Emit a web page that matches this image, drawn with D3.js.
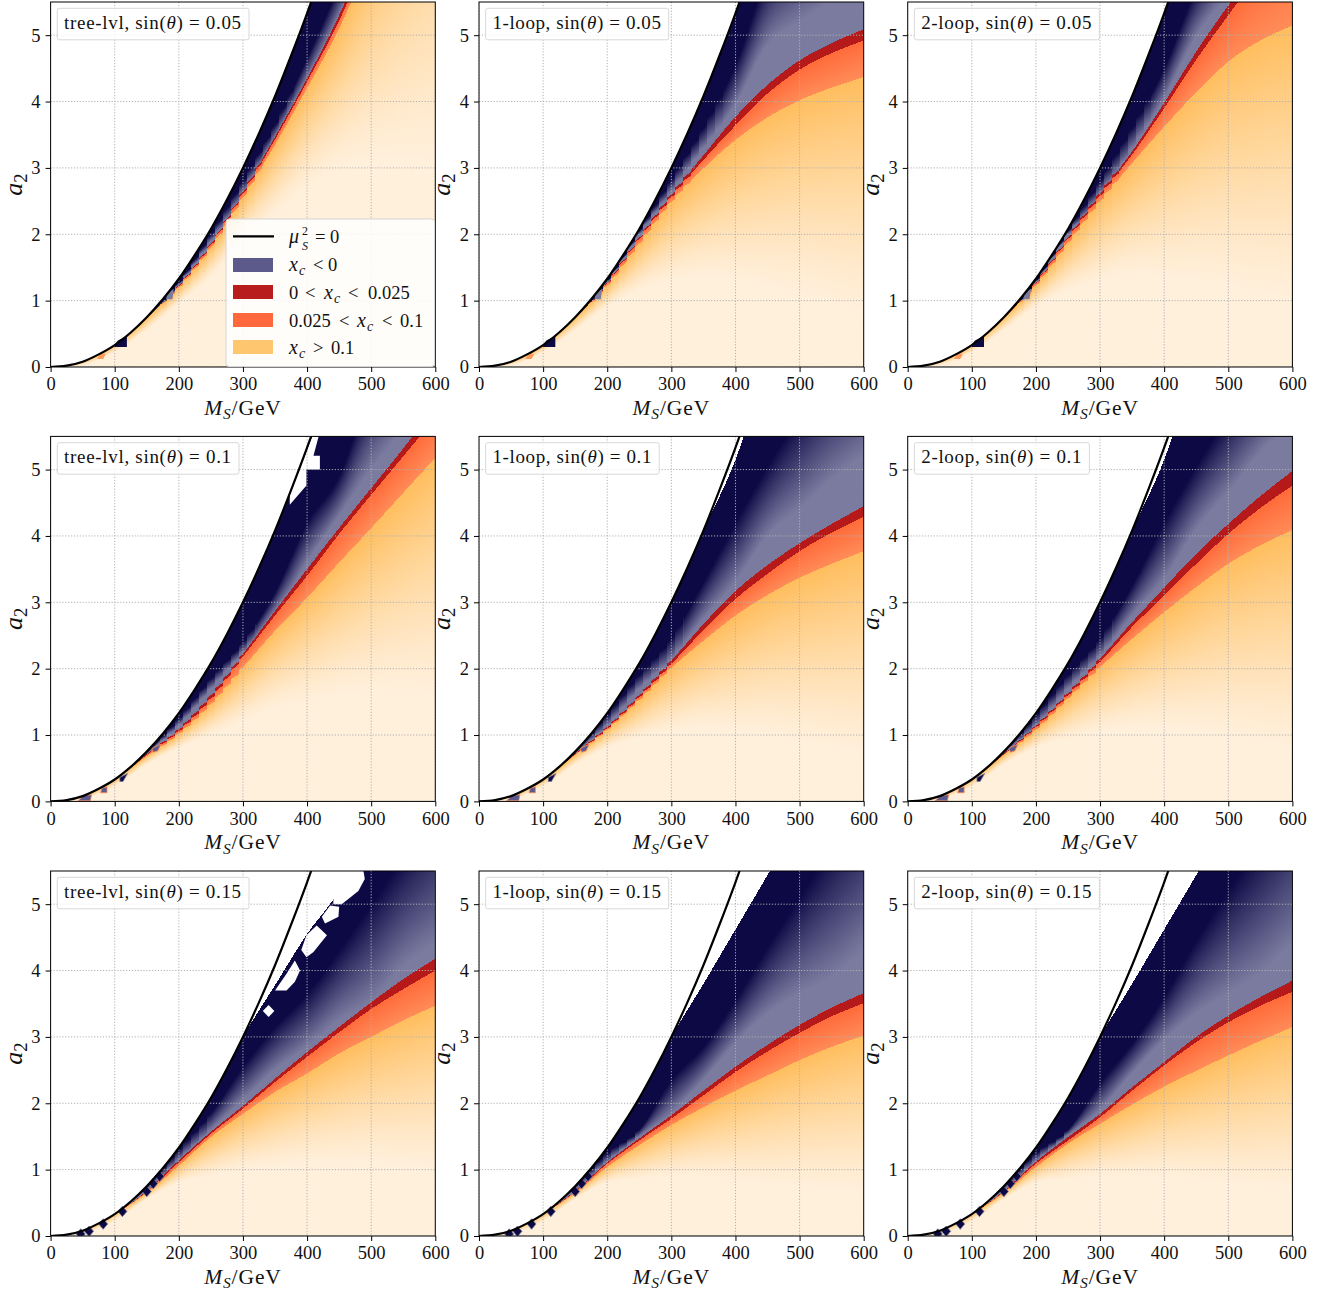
<!DOCTYPE html>
<html><head><meta charset="utf-8">
<script src="https://cdn.jsdelivr.net/npm/d3@7"></script>
<style>
html,body{margin:0;padding:0;background:#fff}
svg{display:block}
text{font-family:"Liberation Serif",serif;fill:#111}
</style></head><body>
<svg id="c" width="1338" height="1296"></svg>
<script>
// ---------- data ----------
const massGrid=[0,50,100,150,200,250,300,350,400,450,500,550,600];
const xTicks=[0,100,200,300,400,500,600];
const yTicks=[0,1,2,3,4,5];
const curveMass=[0,25,50,75,100,125,150,175,200,225,250,275,300,325,350,375,400,425];
const muZero=[0,.02,.08,.19,.33,.52,.75,1.02,1.33,1.69,2.08,2.52,3.0,3.52,4.08,4.69,5.33,6.02];

const labelsLoop=["tree-lvl","1-loop","2-loop"];
const labelsSin=["0.05","0.1","0.15"];

const tree05_x10=[0,.08,.33,.74,1.2,1.8,2.55,3.35,4.2,5.1,6.2,7.3,8.5];
const tree05_x025=[0,.08,.33,.74,1.22,1.84,2.61,3.43,4.3,5.22,6.34,7.45,8.65];
const tree05_x0=[0,.08,.33,.74,1.23,1.86,2.64,3.47,4.35,5.3,6.44,7.55,8.75];
const tree05_navy=[0,.08,.33,.74,1.27,2.0,2.8,3.65,4.65,5.75,6.9,8,9.2];
const tree05_lav=[0,.08,.33,.74,1.24,1.9,2.6,3.4,4.3,5.25,6.4,7.5,8.7];
const tree05_pale=[0,.03,.22,.55,.95,1.35,1.9,2.3,2.7,3.0,3.1,3.1,3.0];

const one05_x10=[0,.08,.33,.74,1.23,1.86,2.49,2.99,3.42,3.76,4.02,4.21,4.37];
const one05_x025=[0,.08,.33,.74,1.26,1.93,2.56,3.12,3.64,4.12,4.48,4.73,4.92];
const one05_x0=[0,.08,.33,.74,1.27,1.95,2.6,3.19,3.77,4.25,4.62,4.88,5.09];
const one05_navy=[0,.08,.33,.74,1.3,2.05,2.82,3.6,4.55,5.9,6.6,7,7.4];
const one05_lav=[0,.08,.33,.74,1.28,2.0,2.65,3.3,3.95,4.85,5.2,5.5,5.75];
const one05_pale=[0,.03,.22,.55,.9,1.15,1.3,1.35,1.3,1.2,1.1,.95,.8];

const two05_x10=[0,.08,.33,.74,1.23,1.87,2.5,3.07,3.62,4.14,4.6,4.92,5.15];
const two05_x025=[0,.08,.33,.74,1.26,1.93,2.58,3.2,3.9,4.63,5.3,5.95,6.5];
const two05_x0=[0,.08,.33,.74,1.27,1.95,2.62,3.25,3.98,4.75,5.45,6.1,6.7];
const two05_navy=[0,.08,.33,.74,1.3,2.05,2.8,3.6,4.5,5.7,6.5,7.2,7.8];
const two05_lav=[0,.08,.33,.74,1.28,2.0,2.55,3.3,4.05,4.98,5.6,6.2,6.8];
const two05_pale=[0,.03,.22,.55,.9,1.15,1.3,1.4,1.35,1.3,1.2,1.1,1.0];

const tree10_x10=[0,.08,.33,.68,1.02,1.47,2.02,2.57,3.07,3.6,4.12,4.65,5.18];
const tree10_x025=[0,.08,.33,.7,1.06,1.55,2.18,2.8,3.4,4.03,4.62,5.2,5.78];
const tree10_x0=[0,.08,.33,.71,1.09,1.6,2.22,2.87,3.5,4.12,4.72,5.32,5.95];
const tree10_navy=[0,.08,.33,.74,1.25,1.85,2.4,3.15,4.2,4.9,6.2,6.9,7.6];
const tree10_lav=[0,.08,.33,.72,1.15,1.7,2.25,2.8,3.6,4.3,5.0,5.6,6.2];
const tree10_pale=[0,.03,.22,.55,.8,1.0,1.2,1.4,1.5,1.6,1.65,1.65,1.6];

const one10_x10=[0,.08,.33,.7,1.08,1.53,2.01,2.42,2.8,3.11,3.37,3.58,3.77];
const one10_x025=[0,.08,.33,.71,1.1,1.57,2.07,2.58,3.05,3.43,3.77,4.05,4.29];
const one10_x0=[0,.08,.33,.72,1.12,1.6,2.12,2.67,3.17,3.56,3.89,4.18,4.45];
const one10_navy=[0,.08,.33,.75,1.3,1.9,2.45,3.3,4.2,5.05,5.8,6.4,6.9];
const one10_lav=[0,.08,.33,.73,1.15,1.7,2.15,2.75,3.3,4.0,4.4,4.85,5.2];
const one10_pale=[0,.03,.22,.55,.8,.95,1.05,1.1,1.05,1.0,.9,.8,.7];
const one10_edge=[0,.08,.33,.75,1.33,2.08,3.0,4.08,5.15,6.6,8,9,10];

const two10_x10=[0,.08,.33,.7,1.08,1.55,2.02,2.45,2.85,3.23,3.58,3.86,4.09];
const two10_x025=[0,.08,.33,.71,1.12,1.6,2.1,2.63,3.1,3.58,4.03,4.42,4.76];
const two10_x0=[0,.08,.33,.72,1.14,1.63,2.15,2.7,3.22,3.73,4.18,4.6,4.98];
const two10_navy=[0,.08,.33,.75,1.3,1.9,2.45,3.25,4.2,5.05,5.8,6.4,6.9];
const two10_lav=[0,.08,.33,.73,1.15,1.7,2.2,2.8,3.35,4.1,4.65,5.25,5.7];
const two10_pale=[0,.03,.22,.55,.8,.95,1.05,1.1,1.1,1.05,1.0,.9,.8];
const two10_edge=[0,.08,.33,.75,1.33,2.08,3.0,4.08,5.15,6.6,8,9,10];

const tree15_x10=[0,.08,.33,.65,1.06,1.49,1.84,2.17,2.45,2.75,3.0,3.25,3.47];
const tree15_x025=[0,.08,.33,.67,1.11,1.54,1.92,2.32,2.7,3.07,3.42,3.72,4.0];
const tree15_x0=[0,.08,.33,.68,1.14,1.57,1.96,2.37,2.77,3.15,3.52,3.87,4.18];
const tree15_navy=[0,.08,.33,.75,1.3,1.85,2.55,3.15,3.65,4.3,5.0,5.7,6.3];
const tree15_lav=[0,.08,.33,.7,1.15,1.6,2.05,2.5,2.85,3.25,3.55,4.05,4.4];
const tree15_pale=[0,.03,.22,.55,.8,.9,1.0,1.05,1.1,1.1,1.1,1.05,1.0];
const tree15_edge=[0,.08,.33,.75,1.33,2.08,3.0,3.78,4.55,5.2,6.1,7,8];

const one15_x10=[0,.08,.33,.65,1.04,1.37,1.67,1.94,2.19,2.42,2.65,2.85,3.02];
const one15_x025=[0,.08,.33,.67,1.09,1.44,1.77,2.12,2.47,2.78,3.06,3.31,3.51];
const one15_x0=[0,.08,.33,.68,1.11,1.47,1.82,2.19,2.55,2.88,3.18,3.44,3.66];
const one15_navy=[0,.08,.33,.75,1.25,1.6,2.35,2.85,3.55,4.35,5.1,5.85,6.5];
const one15_lav=[0,.08,.33,.7,1.12,1.5,1.85,2.35,2.9,3.35,3.65,3.9,4.3];
const one15_pale=[0,.03,.22,.55,.8,.85,.9,.9,.85,.8,.75,.7,.65];
const one15_edge=[0,.08,.33,.75,1.33,2.08,3.0,3.8,4.62,5.44,6.3,7.1,8];

const two15_x10=[0,.08,.33,.65,1.04,1.39,1.69,1.98,2.25,2.49,2.72,2.94,3.15];
const two15_x025=[0,.08,.33,.67,1.09,1.44,1.79,2.19,2.57,2.92,3.22,3.47,3.68];
const two15_x0=[0,.08,.33,.68,1.12,1.49,1.84,2.24,2.62,3.0,3.32,3.6,3.85];
const two15_navy=[0,.08,.33,.75,1.25,1.6,2.3,2.9,3.6,4.45,5.2,5.9,6.6];
const two15_lav=[0,.08,.33,.7,1.13,1.52,1.9,2.45,2.95,3.35,3.65,3.95,4.4];
const two15_pale=[0,.03,.22,.55,.8,.85,.9,.9,.9,.85,.8,.75,.7];
const two15_edge=[0,.08,.33,.75,1.33,2.08,3.0,3.8,4.62,5.44,6.3,7.1,8];

// holes in the tree-level scans (MS, a2)
const holesTree10=[[[373,4.47],[399,4.76],[399,5.0],[420,5.0],[420,5.21],[410,5.21],[418,5.5],[408,5.5],[400,5.3],[373,4.62]]];
const holesTree15=[
 [[331,3.39],[340,3.30],[349,3.39],[340,3.48]],
 [[350,3.7],[368,3.7],[381,3.83],[389,4.0],[381,4.15],[368,3.95]],
 [[391,4.31],[399,4.2],[410,4.28],[420,4.4],[431,4.53],[415,4.68],[399,4.53]],
 [[423,4.81],[428,4.71],[449,4.81],[450,4.96],[436,4.98]],
 [[441,5.13],[441,5.0],[454,5.0],[480,5.2],[490,5.38],[488,5.5],[462,5.5]]];
// stray grid cells near the curve (MS, a2)
const cellsRow05=[[[100,.30],[119,.30],[119,.47],[105,.40],[100,.34]]];
const cellsRow05Light=[[[180,1.02],[190,1.02],[192,1.18],[182,1.12]]];
const cellsRow05Orange=[[[72,.12],[82,.12],[86,.2],[78,.2]]];
const cellsRow10=[[[108,.3],[113,.3],[120,.42],[108,.36]]];
const cellsRow10Light=[[[43,.01],[62,.01],[64,.1],[52,.09]],[[78,.13],[88,.13],[88,.22],[80,.2]],[[160,.74],[167,.76],[172,.86],[158,.8]]];
const diamondsRow15=[[47,.03],[60,.07],[82,.18],[112,.37],[150,.67],[160,.79],[170,.9]];

// ---------- layout ----------
const W=384.7,H=365;
const X0=[50.6,479,907.7],Y0=[2,436.4,871];
const cNavy="#0c0945",cLav="#7b7ba0",cRed="#b5191a",cOrA="#ff6a3a",cOrB="#ff8c58",cYel="#ffbe5e",cPale="#fff0dc";
const titleWidths=[[177.7,167.7,177.7],[169,159.5,169],[171,161,171]];
const scanStep=12.5, scanWeight=.4; // the scan's grid shows as small teeth along the low-mass edges
const panels=[
 [tree05_x10,tree05_x025,tree05_x0,tree05_navy,tree05_lav,tree05_pale,null],
 [one05_x10,one05_x025,one05_x0,one05_navy,one05_lav,one05_pale,null],
 [two05_x10,two05_x025,two05_x0,two05_navy,two05_lav,two05_pale,null],
 [tree10_x10,tree10_x025,tree10_x0,tree10_navy,tree10_lav,tree10_pale,null],
 [one10_x10,one10_x025,one10_x0,one10_navy,one10_lav,one10_pale,one10_edge],
 [two10_x10,two10_x025,two10_x0,two10_navy,two10_lav,two10_pale,two10_edge],
 [tree15_x10,tree15_x025,tree15_x0,tree15_navy,tree15_lav,tree15_pale,tree15_edge],
 [one15_x10,one15_x025,one15_x0,one15_navy,one15_lav,one15_pale,one15_edge],
 [two15_x10,two15_x025,two15_x0,two15_navy,two15_lav,two15_pale,two15_edge]];

function hermite(xs,ys){
  const n=xs.length;
  const m=ys.map((_,i)=>i==0?(ys[1]-ys[0])/(xs[1]-xs[0]):i==n-1?(ys[n-1]-ys[n-2])/(xs[n-1]-xs[n-2]):(ys[i+1]-ys[i-1])/(xs[i+1]-xs[i-1]));
  return x=>{
    if(x>xs[n-1])return ys[n-1]+(x-xs[n-1])*m[n-1];
    let i=Math.min(n-2,Math.max(0,d3.bisectRight(xs,x)-1));
    const h=xs[i+1]-xs[i],t=(x-xs[i])/h,t2=t*t,t3=t2*t;
    return (2*t3-3*t2+1)*ys[i]+(t3-2*t2+t)*h*m[i]+(-2*t3+3*t2)*ys[i+1]+(t3-t2)*h*m[i+1];
  };
}
const curveAt=hermite(curveMass,muZero);
const svg=d3.select("#c");
const defs=svg.append("defs");
const iNavy=d3.interpolateRgb(cNavy,cLav),iOr=d3.interpolateRgb(cOrA,cOrB),iYel=d3.interpolateRgb(cPale,cYel);
const clamp01=t=>Math.max(0,Math.min(1,t));

function mathText(g,x,y,size,parts,anchor){
  const t=g.append("text").attr("x",x).attr("y",y).attr("font-size",size).attr("text-anchor",anchor||"start");
  let shift=0;
  parts.forEach(p=>{
    const s=t.append("tspan").text(p[0]);
    if(p[1]&&p[1].includes("i"))s.attr("font-style","italic");
    let target=0;
    if(p[1]&&p[1].includes("b")){target=size*.2;s.attr("font-size",size*.72);}
    if(shift!=target){s.attr("dy",target-shift);shift=target;}
  });
  return t;
}

panels.forEach((P,idx)=>{
  const col=idx%3,row=Math.floor(idx/3);
  const x=d3.scaleLinear().domain([0,600]).range([X0[col],X0[col]+W]);
  const y=d3.scaleLinear().domain([0,5.5]).range([Y0[row]+H,Y0[row]]);
  const [f10,f025,f0,fN,fL,fP]=P.slice(0,6).map(a=>hermite(massGrid,a));
  const fE=P[6]?hermite(massGrid,P[6]):null;
  const g=svg.append("g");
  const clipId="clip"+idx;
  defs.append("clipPath").attr("id",clipId).append("rect").attr("x",X0[col]).attr("y",Y0[row]).attr("width",W).attr("height",H);
  const plot=g.append("g").attr("clip-path",`url(#${clipId})`);

  const pxColumns=d3.range(Math.floor(X0[col]),Math.ceil(X0[col]+W));
  const bandLimit=row==2?0:(row==0?330:300), navyLimit=row==0?380:(row==1?320:250);
  pxColumns.forEach((px,ci)=>{
    const mid=Math.max(0,Math.min(600,x.invert(px+.5)));
    const snap=Math.round(mid/scanStep)*scanStep;
    const toothB=f=>(mid>170&&mid<bandLimit)?f(mid)+scanWeight*(f(snap)-f(mid)):f(mid);
    const toothN=f=>(mid>170&&mid<navyLimit)?f(mid)+scanWeight*(f(snap)-f(mid)):f(mid);
    const top=Math.min(curveAt(mid),fE?fE(mid):1e9);
    const a10=Math.min(toothB(f10),top),a025=Math.min(Math.max(toothB(f025),a10),top),a0=Math.min(Math.max(toothB(f0),a025),top);
    const aL=Math.min(Math.max(toothN(fL),a0),top),aN=Math.min(Math.max(toothN(fN),aL),top);
    const aP=Math.min(fP(mid),a10);
    const secs=[
      [aN,top,()=>cNavy],
      [aL,aN,a=>iNavy(clamp01((aN-a)/Math.max(1e-6,aN-aL)))],
      [a0,aL,()=>cLav],
      [a025,a0,()=>cRed],
      [a10,a025,a=>iOr(clamp01((a025-a)/Math.max(1e-6,a025-a10)))],
      [aP,a10,a=>iYel(Math.pow(clamp01((a-aP)/Math.max(1e-6,toothB(f10)-aP)),1.25))],
      [0,aP,()=>cPale]];
    const id=`g${idx}_${ci}`;
    const lg=defs.append("linearGradient").attr("id",id).attr("x1",0).attr("x2",0).attr("y1",0).attr("y2",1);
    const stop=(a,c,op)=>{const s=lg.append("stop").attr("offset",(1-a/5.5).toFixed(4)).attr("stop-color",c);if(op!==undefined)s.attr("stop-opacity",op);};
    const cTop=Math.min(top,5.5);
    stop(5.5,"#fff",0);stop(cTop,"#fff",0);
    secs.forEach(([lo,hi,fn],si)=>{
      const h=Math.min(hi,5.5),l=Math.max(lo,0);
      if(h<=l)return;
      const n=(si==1||si==4||si==5)?5:1;
      for(let k=0;k<=n;k++){const a=h+(l-h)*k/n;stop(a,fn(a));}
    });
    plot.append("rect").attr("x",px).attr("y",Y0[row]).attr("width",1).attr("height",H).attr("fill",`url(#${id})`).attr("shape-rendering","crispEdges");
  });

  const pl=d3.line().x(d=>x(d[0])).y(d=>y(d[1]));
  const cells=[];
  if(row==0){cellsRow05.forEach(c=>cells.push([c,cNavy,"none"]));cellsRow05Light.forEach(c=>cells.push([c,cLav,"none"]));cellsRow05Orange.forEach(c=>cells.push([c,"#ff9a5a","none"]));}
  if(row==1){cellsRow10.forEach(c=>cells.push([c,cNavy,cLav]));cellsRow10Light.forEach(c=>cells.push([c,"#5c5a8c",cOrB]));}
  if(row==2){diamondsRow15.forEach(d=>cells.push([[[d[0]-7,d[1]],[d[0],d[1]-.08],[d[0]+7,d[1]],[d[0],d[1]+.08]],cNavy,cLav]));}
  if(idx==3)holesTree10.forEach(c=>cells.push([c,"#fff","none"]));
  if(idx==6)holesTree15.forEach(c=>cells.push([c,"#fff","none"]));
  cells.forEach(c=>plot.append("path").attr("d",pl(c[0])+"Z").attr("fill",c[1]).attr("stroke",c[2]).attr("stroke-width",.8));

  // grid
  plot.selectAll("line.gx").data(xTicks).join("line").attr("class","gx").attr("x1",d=>x(d)).attr("x2",d=>x(d)).attr("y1",Y0[row]).attr("y2",Y0[row]+H)
    .attr("stroke","#b0b0b0").attr("stroke-width",1).attr("stroke-dasharray","1.2 1.7");
  plot.selectAll("line.gy").data(yTicks).join("line").attr("class","gy").attr("y1",d=>y(d)).attr("y2",d=>y(d)).attr("x1",X0[col]).attr("x2",X0[col]+W)
    .attr("stroke","#b0b0b0").attr("stroke-width",1).attr("stroke-dasharray","1.2 1.7");

  // mu^2 = 0
  plot.append("path").datum(d3.zip(curveMass,muZero)).attr("d",d3.line().x(d=>x(d[0])).y(d=>y(d[1])).curve(d3.curveCatmullRom.alpha(.5)))
    .attr("fill","none").attr("stroke","#000").attr("stroke-width",2.2);

  // frame + axes
  g.append("rect").attr("x",X0[col]).attr("y",Y0[row]).attr("width",W).attr("height",H).attr("fill","none").attr("stroke","#000").attr("stroke-width",1);
  const ax=g.append("g").attr("transform",`translate(0,${Y0[row]+H})`).call(d3.axisBottom(x).tickValues(xTicks).tickSize(5).tickPadding(5).tickFormat(d3.format("d")));
  const ay=g.append("g").attr("transform",`translate(${X0[col]},0)`).call(d3.axisLeft(y).tickValues(yTicks).tickSize(5).tickPadding(5).tickFormat(d3.format("d")));
  [ax,ay].forEach(a=>{a.select(".domain").remove();a.selectAll("text").attr("font-size",18.5).attr("font-family","Liberation Serif").attr("fill","#111");a.selectAll("line").attr("stroke","#000");});

  // axis labels
  mathText(g,X0[col]+W/2,Y0[row]+H+48,21.5,[["M","i"],["S","ib"],["/GeV",""]],"middle").attr("letter-spacing",.9);
  const yl=g.append("g").attr("transform",`translate(${X0[col]-29},${Y0[row]+H/2}) rotate(-90)`);
  mathText(yl,0,0,26,[["a","i"],["2","b"]],"middle");

  // title box
  const tl=g.append("g");
  const tw=titleWidths[col][row];
  tl.append("rect").attr("y",Y0[row]+6.3).attr("x",X0[col]+6.7).attr("height",31.5).attr("width",tw+14).attr("rx",2).attr("fill","#fff").attr("fill-opacity",.8).attr("stroke","#d8d8d8").attr("stroke-width",1);
  const tt=mathText(tl,X0[col]+13.5,Y0[row]+27,19,[[labelsLoop[col]+", sin(",""],["θ","i"],[") = "+labelsSin[row],""]]);
  const len=tt.node().getComputedTextLength(),nc=tt.text().length;
  tt.attr("letter-spacing",((tw-len)/nc).toFixed(3));

  // legend
  if(idx==0){
    const lg=g.append("g");
    lg.append("rect").attr("x",226).attr("y",219).attr("width",208.5).attr("height",147.5).attr("rx",3).attr("fill","#fff").attr("fill-opacity",.86).attr("stroke","#d4d4d4").attr("stroke-width",1);
    lg.append("line").attr("x1",233).attr("x2",274).attr("y1",236.3).attr("y2",236.3).attr("stroke","#000").attr("stroke-width",2.2);
    [["#5c5a8a",258],["#b81c1c",285],["#ff673c",313],["#ffc670",340]].forEach(d=>lg.append("rect").attr("x",233).attr("y",d[1]).attr("width",40).attr("height",14).attr("fill",d[0]));
    const fs=18.5,put=(px,py,s,it,size)=>lg.append("text").attr("x",px).attr("y",py).attr("font-size",size||fs).attr("font-style",it?"italic":"normal").text(s);
    const xc=(px,py)=>{put(px,py,"x",1,20);put(px+10,py+4,"c",1,14);};
    put(289,243,"μ",1,20);put(302,234.5,"2",0,12);put(302,249.5,"S",1,12);put(315,243,"= 0");
    xc(289,271);put(313,271,"< 0");
    put(289,299,"0");put(305,299,"<");xc(324,299);put(348,299,"<");put(368,299,"0.025");
    put(289,327,"0.025");put(339,327,"<");xc(357,327);put(382,327,"<");put(400,327,"0.1");
    xc(289,354);put(313,354,">");put(331,354,"0.1");
  }
});
</script></body></html>
